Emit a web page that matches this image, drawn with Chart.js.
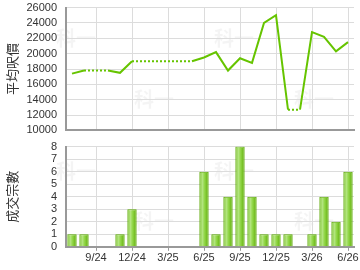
<!DOCTYPE html>
<html>
<head>
<meta charset="utf-8">
<script src="https://cdn.jsdelivr.net/npm/chart.js@4"></script>
<style>
  html, body { margin: 0; padding: 0; background: #fff; }
  #wrap { position: relative; width: 360px; height: 270px; overflow: hidden; }
  #priceBox { position: absolute; left: 0; top: -8px; width: 360px; height: 154px; }
  #dealBox { position: absolute; left: 0; top: 131px; width: 360px; height: 139px; }
</style>
</head>
<body>
<div id="wrap">
  <div id="priceBox"><canvas id="priceChart"></canvas></div>
  <div id="dealBox"><canvas id="dealChart"></canvas></div>
</div>
<script>
// Monthly categories, Jul 2024 .. Jun 2026
const months = ['7/24','8/24','9/24','10/24','11/24','12/24','1/25','2/25','3/25','4/25','5/25','6/25',
                '7/25','8/25','9/25','10/25','11/25','12/25','1/26','2/26','3/26','4/26','5/26','6/26'];
// Average price per sq ft (carried-over months are drawn dotted)
const avgPrice = [17400, 17800, 17800, 17800, 17500, 19000, 19000, 19000, 19000, 19000, 19000, 19500,
                  20200, 17800, 19400, 18800, 24000, 25000, 12700, 12700, 22800, 22200, 20300, 21500];
const carried = [false, false, true, true, false, false, true, true, true, true, true, false,
                 false, false, false, false, false, false, false, true, false, false, false, false];
// Number of transactions
const deals = [1, 1, 0, 0, 1, 3, 0, 0, 0, 0, 0, 6, 1, 4, 8, 4, 1, 1, 1, 0, 1, 4, 2, 6];

const priceTicks = { min: 10000, max: 26000, step: 2000 };
const dealTicks = { min: 0, max: 8, step: 1 };

const tickFont = { family: 'Liberation Sans, Arial, sans-serif', size: 11 };
const titleFont = { family: 'Noto Sans CJK TC, sans-serif', size: 13 };
const textColor = '#333';
const gridColor = '#dcdcdc';
const axisColor = '#999';
const lineGreen = '#66c400';

// every 3rd month gets a gridline / label (9/24, 12/24, ...)
const showTick = i => i % 3 === 2;

const watermark = {
    id: 'watermark',
    beforeDraw(chart) {
        const c = chart.ctx;
        const a = chart.chartArea;
        c.save();
        c.fillStyle = 'rgba(0,0,0,0.045)';
        c.font = 'bold 20px "Noto Sans CJK TC"';
        c.textBaseline = 'middle';
        const spots = [[-10, 0.25], [68, 0.75], [148, 0.25], [228, 0.75]];
        spots.forEach(([dx, fy]) => c.fillText('科一', a.left + dx, a.top + (a.bottom - a.top) * fy));
        c.restore();
    }
};

function fixedWidth(scale) { scale.width = 66; }

function barFill(ctx) {
    const chart = ctx.chart;
    const xs = chart.scales && chart.scales.x;
    if (ctx.type !== 'data' || !xs || !chart.chartArea) return '#86cf3a';
    const cx = xs.getPixelForValue(ctx.dataIndex);
    const g = chart.ctx.createLinearGradient(cx - 4.5, 0, cx + 4.5, 0);
    g.addColorStop(0, '#6cbb14');
    g.addColorStop(0.3, '#b6e685');
    g.addColorStop(0.55, '#93d74a');
    g.addColorStop(1, '#5eae06');
    return g;
}

new Chart(document.getElementById('priceChart').getContext('2d'), {
    type: 'line',
    data: {
        labels: months,
        datasets: [{
            data: avgPrice,
            borderColor: lineGreen,
            borderWidth: 2,
            pointRadius: 0,
            tension: 0,
            segment: {
                borderDash: ctx => carried[ctx.p1DataIndex] ? [2, 2] : undefined
            }
        }]
    },
    options: {
        responsive: true,
        maintainAspectRatio: false,
        animation: false,
        layout: { padding: { top: 0, right: 6, bottom: 0, left: 0 } },
        plugins: { legend: { display: false }, tooltip: { enabled: false } },
        scales: {
            x: {
                offset: true,
                grid: { offset: false, color: c => showTick(c.index) ? gridColor : 'transparent', drawTicks: false },
                border: { color: axisColor, width: 2 },
                ticks: { display: false }
            },
            y: {
                min: priceTicks.min,
                max: priceTicks.max,
                afterFit: fixedWidth,
                ticks: { stepSize: priceTicks.step, autoSkip: false, font: tickFont, color: textColor, padding: 9,
                         callback: v => String(v) },
                grid: { color: gridColor, drawTicks: false },
                border: { color: axisColor, width: 2 },
                title: { display: true, text: '平均呎價', font: titleFont, color: textColor, padding: { top: 4, bottom: 0 } }
            }
        }
    },
    plugins: [watermark]
});

new Chart(document.getElementById('dealChart').getContext('2d'), {
    type: 'bar',
    data: {
        labels: months,
        datasets: [{
            data: deals,
            backgroundColor: barFill,
            borderColor: '#5aa800',
            borderWidth: 1,
            barPercentage: 0.78,
            categoryPercentage: 1
        }]
    },
    options: {
        responsive: true,
        maintainAspectRatio: false,
        animation: false,
        layout: { padding: { top: 0, right: 6, bottom: 4, left: 0 } },
        plugins: { legend: { display: false }, tooltip: { enabled: false } },
        scales: {
            x: {
                offset: true,
                grid: {
                    offset: false,
                    color: c => showTick(c.index) ? gridColor : 'transparent',
                    tickColor: c => showTick(c.index) ? axisColor : 'transparent',
                    tickLength: 4
                },
                border: { color: axisColor, width: 2 },
                ticks: {
                    autoSkip: false,
                    maxRotation: 0,
                    font: tickFont,
                    color: textColor,
                    padding: 1,
                    callback: (v, i) => showTick(i) ? months[i] : ''
                }
            },
            y: {
                min: dealTicks.min,
                max: dealTicks.max,
                afterFit: fixedWidth,
                ticks: { stepSize: dealTicks.step, autoSkip: false, font: tickFont, color: textColor, padding: 9 },
                grid: { color: gridColor, drawTicks: false },
                border: { color: axisColor, width: 2 },
                title: { display: true, text: '成交宗數', font: titleFont, color: textColor, padding: { top: 4, bottom: 0 } }
            }
        }
    },
    plugins: [watermark]
});
</script>
</body>
</html>
